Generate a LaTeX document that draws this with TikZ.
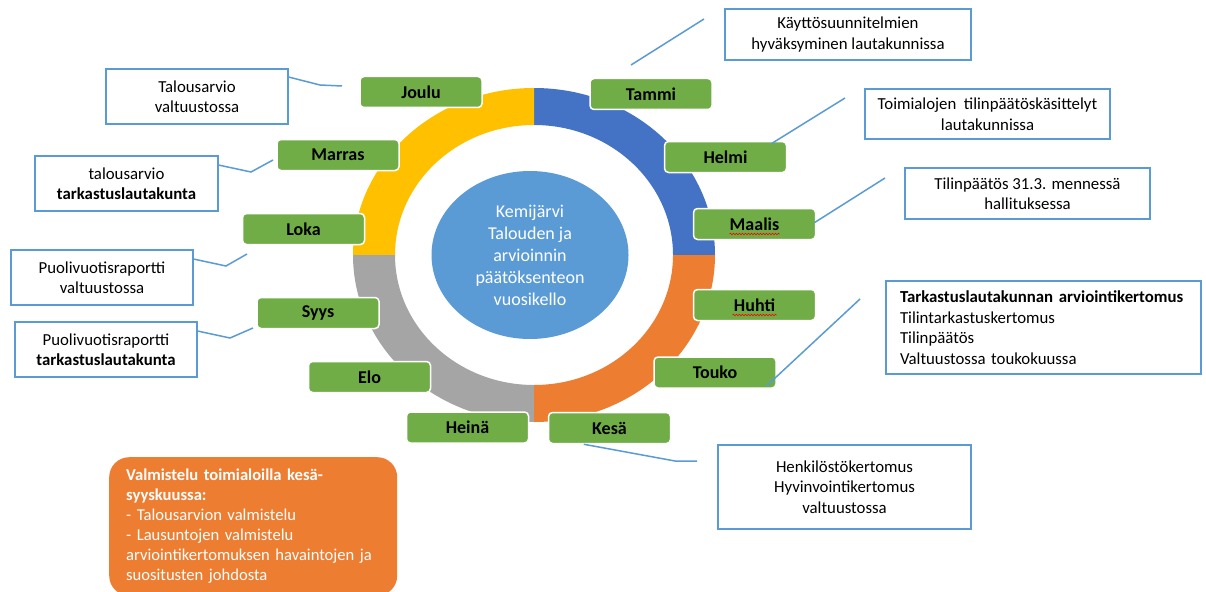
\documentclass[tikz,border=0pt]{standalone}
\usepackage{fontspec}
\setmainfont{Carlito}
\usetikzlibrary{shapes.geometric,calc,decorations.pathmorphing}
\definecolor{ringblue}{HTML}{4472C4}
\definecolor{ringorange}{HTML}{ED7D31}
\definecolor{ringgray}{HTML}{A5A5A5}
\definecolor{ringyellow}{HTML}{FFC000}
\definecolor{monthgreen}{HTML}{70AD47}
\definecolor{lineblue}{HTML}{5B9BD5}
\begin{document}
\begin{tikzpicture}[x=1pt,y=1pt,
 month/.style={rectangle, rounded corners=4pt, fill=monthgreen, draw=white, line width=1.5pt, minimum width=122pt, minimum height=31pt, inner sep=0pt, font=\fontsize{18}{20}\selectfont\bfseries, text=black},
 note/.style={rectangle, draw=lineblue, line width=1.8pt, fill=white, inner sep=0pt, align=center, font=\fontsize{16.8}{20.5}\selectfont},
 link/.style={draw=lineblue, line width=1.5pt},
 squiggle/.style={draw=red, line width=0.6pt, decorate, decoration={snake, segment length=3pt, amplitude=0.8pt}}
]
\useasboundingbox (0,0) rectangle (1206,-591);
\fill[white] (0,0) rectangle (1206,-591);

% ring
\fill[ringblue] (715,-255) arc[start angle=0,end angle=90,x radius=181,y radius=167] -- (534,-125) arc[start angle=90,end angle=0,x radius=139,y radius=130] -- cycle;
\fill[ringyellow] (534,-88) arc[start angle=90,end angle=180,x radius=181,y radius=167] -- (395,-255) arc[start angle=180,end angle=90,x radius=139,y radius=130] -- cycle;
\fill[ringgray] (353,-255) arc[start angle=180,end angle=270,x radius=181,y radius=167] -- (534,-385) arc[start angle=270,end angle=180,x radius=139,y radius=130] -- cycle;
\fill[ringorange] (534,-422) arc[start angle=270,end angle=360,x radius=181,y radius=167] -- (673,-255) arc[start angle=0,end angle=-90,x radius=139,y radius=130] -- cycle;

\node[ellipse, fill=lineblue, minimum width=197pt, minimum height=168pt, inner sep=0pt, align=center, text=white, font=\fontsize{18}{22}\selectfont] (hub) at (530,-255) {Kemijärvi\\Talouden ja\\arvioinnin\\päätöksenteon\\vuosikello};

% months
\node[month] (joulu) at (421,-92) {Joulu};
\node[month] (tammi) at (651,-94) {Tammi};
\node[month] (helmi) at (725.5,-157) {Helmi};
\node[month] (maalis) at (754.5,-224) {Maalis};
\node[month] (huhti) at (754.5,-305) {Huhti};
\node[month] (touko) at (715,-372.5) {Touko};
\node[month] (kesa) at (609.5,-428) {Kesä};
\node[month] (heina) at (467.5,-427.5) {Heinä};
\node[month] (elo) at (369.5,-377) {Elo};
\node[month] (syys) at (318,-313) {Syys};
\node[month] (loka) at (303.5,-229) {Loka};
\node[month] (marras) at (338,-155) {Marras};

\draw[squiggle] ($(maalis.center)+(-25,-10)$) -- ($(maalis.center)+(25,-10)$);
\draw[squiggle] ($(huhti.center)+(-22,-10)$) -- ($(huhti.center)+(22,-10)$);

% notes
\node[note, minimum width=182pt, minimum height=55pt] (n1) at (197,-96.5) {Talousarvio\\valtuustossa};
\node[note, minimum width=183pt, minimum height=55pt] (n2) at (126.5,-183.5) {talousarvio\\\textbf{tarkastuslautakunta}};
\node[note, minimum width=182pt, minimum height=55pt] (n3) at (102,-277.5) {Puolivuotisraportti\\valtuustossa};
\node[note, minimum width=182pt, minimum height=55pt] (n4) at (106,-349.5) {Puolivuotisraportti\\\textbf{tarkastuslautakunta}};
\node[note, minimum width=246pt, minimum height=51pt] (n5) at (848,-34.5) {Käyttösuunnitelmien\\hyväksyminen lautakunnissa};
\node[note, minimum width=245pt, minimum height=50pt] (n6) at (987.5,-114) {Toimialojen~ tilinpäätöskäsittelyt\\lautakunnissa};
\node[note, minimum width=245pt, minimum height=51pt] (n7) at (1027.5,-193.5) {Tilinpäätös 31.3. mennessä\\hallituksessa};
\node[note, minimum width=315pt, minimum height=93pt, text width=287pt, align=left] (n8) at (1043.5,-327.5) {\textbf{Tarkastuslautakunnan arviointikertomus}\\Tilintarkastuskertomus\\Tilinpäätös\\Valtuustossa toukokuussa};
\node[note, minimum width=253pt, minimum height=84pt] (n9) at (844.5,-487) {Henkilöstökertomus\\Hyvinvointikertomus\\valtuustossa};

\node[rectangle, rounded corners=20pt, fill=ringorange, anchor=north west, inner xsep=17pt, inner ysep=12pt, text width=254pt, align=left, text=white, font=\fontsize{16.6}{20}\selectfont] (prep) at (109,-457) {\textbf{Valmistelu toimialoilla kesä-}\\\textbf{syyskuussa:}\\- Talousarvion valmistelu\\- Lausuntojen valmistelu\\arviointikertomuksen havaintojen ja\\suositusten johdosta};

% connectors
\coordinate (j1) at (320,-85);  \coordinate (j2) at (342,-86);
\coordinate (m1) at (251,-172); \coordinate (m2) at (273,-160);
\coordinate (l1) at (226,-266); \coordinate (l2) at (247,-254);
\coordinate (s1) at (230,-338); \coordinate (s2) at (253,-328);
\coordinate (t1) at (631,-65);  \coordinate (t2) at (704,-19);
\coordinate (h2) at (845,-98);
\coordinate (ma2) at (885,-178);
\coordinate (to2) at (860,-299);
\coordinate (k1) at (675,-461); \coordinate (k2) at (697,-461);

\draw[link] ($(n1.north east)+(0,-9)$) -- (j1) -- (j2);
\draw[link] ($(n2.north east)+(0,-10)$) -- (m1) -- (m2);
\draw[link] ($(n3.north east)+(0,-10)$) -- (l1) -- (l2);
\draw[link] ($(n4.north east)+(0,-10)$) -- (s1) -- (s2);
\draw[link] (t1) -- (t2);
\draw[link] ($(helmi.north east)+(-16,-3)$) -- (h2);
\draw[link] ($(maalis.north east)+(-2,-15)$) -- (ma2);
\draw[link] ($(touko.south east)+(-10,3)$) -- (to2);
\draw[link] ($(kesa.south west)+(36,0)$) -- (k1) -- (k2);
\end{tikzpicture}
\end{document}
